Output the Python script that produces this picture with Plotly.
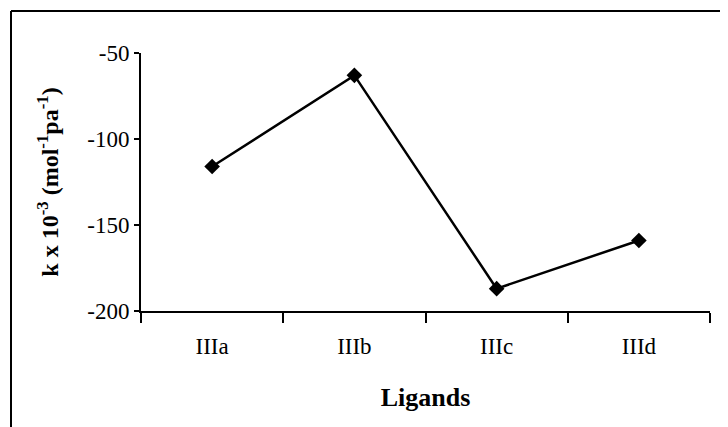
import plotly.graph_objects as go

ligands = ["IIIa", "IIIb", "IIIc", "IIId"]
k_values = [-116, -63, -187, -159]
y_tick_vals = [-50, -100, -150, -200]
y_tick_text = ["-50", "-100", "-150", "-200"]

FONT = "Liberation Serif, Times New Roman, serif"

fig = go.Figure()
fig.add_trace(go.Scatter(
    x=ligands, y=k_values, mode="lines+markers",
    line=dict(color="black", width=2.5),
    marker=dict(symbol="diamond", size=12, color="black"),
    showlegend=False,
))

# page body has an 8px margin, so the figure is offset by 8px
OFF = 8
W, H = 728 - OFF, 427 - OFF
L, R, T, B = 141 - OFF, 18, 53 - OFF, 116
pw, ph = W - L - R, H - T - B

def px_x(px):
    return (px - OFF - L) / pw

def px_y(py):
    return (H - B - (py - OFF)) / ph

fig.update_layout(
    width=W, height=H,
    margin=dict(l=L, r=R, t=T, b=B),
    paper_bgcolor="white", plot_bgcolor="white",
    font=dict(family=FONT, size=23, color="black"),
    xaxis=dict(
        type="category", range=[-0.5, 3.5],
        showline=True, linecolor="black", linewidth=2,
        ticks="outside", tickson="boundaries", ticklen=10, tickwidth=2, tickcolor="black",
        showgrid=False, zeroline=False,
        ticklabelstandoff=13,
        title=dict(text="<b>Ligands</b>", font=dict(size=26), standoff=30),
    ),
    yaxis=dict(
        range=[-200, -50],
        tickvals=y_tick_vals, ticktext=y_tick_text,
        showline=True, linecolor="black", linewidth=2,
        ticks="outside", ticklen=5, tickwidth=2, tickcolor="black",
        showgrid=False, zeroline=False,
        title=dict(text="<b>k x 10<sup>-3</sup> (mol<sup>-1</sup>pa<sup>-1</sup>)</b>", font=dict(size=24), standoff=22),
    ),
    shapes=[
        dict(type="line", xref="paper", yref="paper",
             x0=px_x(11), x1=px_x(740), y0=px_y(11), y1=px_y(11),
             line=dict(color="black", width=2)),
        dict(type="line", xref="paper", yref="paper",
             x0=px_x(11), x1=px_x(11), y0=px_y(11), y1=px_y(440),
             line=dict(color="black", width=2)),
    ],
)

fig.write_html("out.html")
